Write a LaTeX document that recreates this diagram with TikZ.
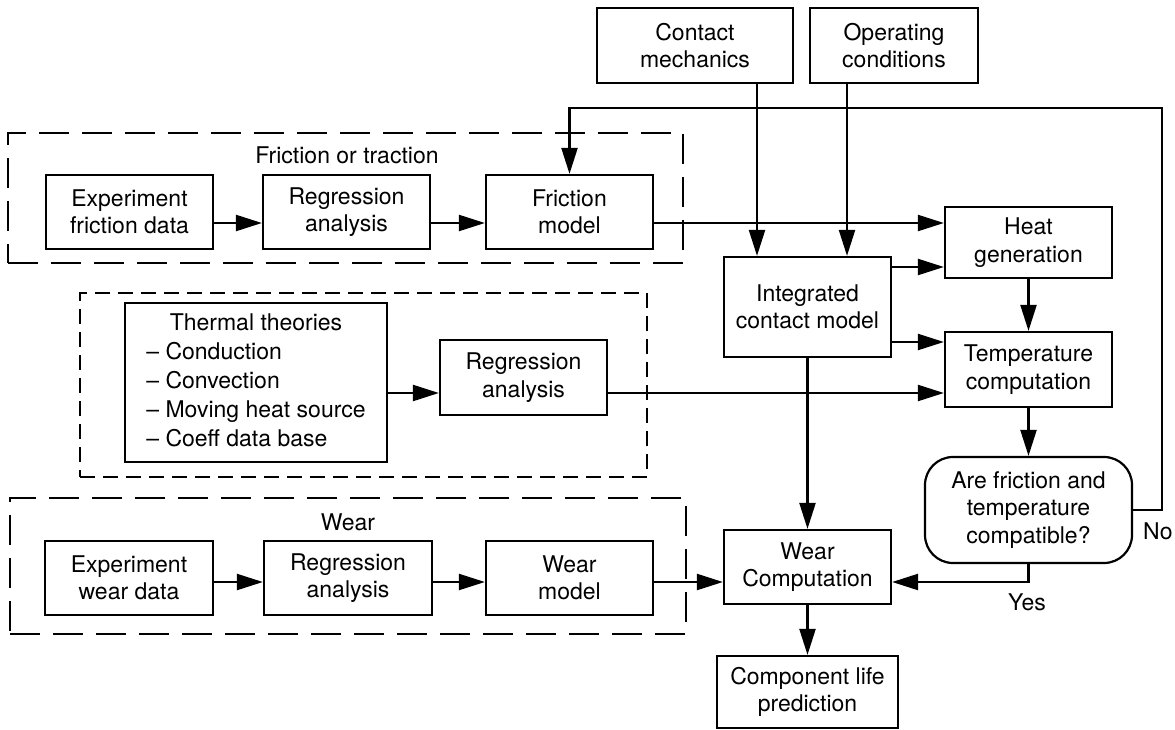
\documentclass[tikz,border=0pt]{standalone}
\usepackage{fontspec}
\setmainfont{TeX Gyre Heros}
\usetikzlibrary{arrows.meta}
\begin{document}
\begin{tikzpicture}[x=1pt,y=-1pt,
  every node/.style={font=\fontsize{23}{27.5}\selectfont},
  sz/.style 2 args={minimum width=#1pt, minimum height=#2pt},
  box/.style={draw, line width=2.2pt, align=center, inner sep=0pt},
  frame/.style={draw, line width=2.2pt, dash pattern=on 30pt off 13pt, inner sep=0pt},
  tframe/.style={draw, line width=2.2pt, dash pattern=on 15pt off 8pt, inner sep=0pt},
  arr/.style={line width=2.2pt, -{Triangle[length=26pt,width=16pt]}}]
\useasboundingbox (0,0) rectangle (1175,730);

% dashed groups
\node[frame, sz={675}{130}] (fF) at (345.5,198) {};
\node[tframe, sz={567}{184}] (fT) at (363.5,385) {};
\node[frame, sz={676}{136}] (fW) at (348,566) {};
\node (lF) at (347,155) {Friction or traction};
\node (lW) at (348,522) {Wear};

% inputs
\node[box, sz={196}{75}] (cm) at (695,45.5) {Contact\\mechanics};
\node[box, sz={168}{75}] (oc) at (894,45.5) {Operating\\conditions};

% friction row
\node[box, sz={167}{74}] (exf) at (129.5,212) {Experiment\\friction data};
\node[box, sz={167}{74}] (rg1) at (346.5,212) {Regression\\analysis};
\node[box, sz={167}{74}] (fm)  at (569.5,212) {Friction\\model};

% thermal group
\node[box, sz={262}{159}] (thm) at (256,382.5) {\renewcommand{\arraystretch}{1.05}\begin{tabular}{@{}l@{}}\multicolumn{1}{@{}c@{}}{Thermal theories}\\
  \textendash{} Conduction\\ \textendash{} Convection\\ \textendash{} Moving heat source\\ \textendash{} Coeff data base\end{tabular}};
\node[box, sz={167}{75}] (rg2) at (523.5,377.5) {Regression\\analysis};

% wear row
\node[box, sz={168}{74}] (exw) at (129,578) {Experiment\\wear data};
\node[box, sz={168}{74}] (rg3) at (348,578) {Regression\\analysis};
\node[box, sz={167}{74}] (wm)  at (569.5,578) {Wear\\model};

% central chain
\node[box, sz={167}{100}] (icm) at (807.5,307) {Integrated\\contact model};
\node[box, sz={167}{71}] (heat) at (1028.5,242.5) {Heat\\generation};
\node[box, sz={167}{75}] (temp) at (1028.5,369.5) {Temperature\\computation};
\node[box, sz={207}{106}, rounded corners=28pt] (dec) at (1028.5,510) {Are friction and\\temperature\\compatible?};
\node[box, sz={167}{74}] (wc) at (807.5,567) {Wear\\Computation};
\node[box, sz={181}{72}] (clp) at (807.5,692) {Component life\\prediction};

\node[anchor=west, inner sep=0pt] (no) at (1143,531) {No};
\node (yes) at (1027,602) {Yes};

% rails
\coordinate (yF) at (0,223);
\coordinate (yT) at (0,393);
\coordinate (yW) at (0,582);
\coordinate (yH) at (0,267);
\coordinate (yC) at (0,342);
\coordinate (xC) at (757,0);
\coordinate (xO) at (847,0);
\coordinate (fbR) at (1162,108);

% friction row
\draw[arr] (exf.east |- yF) -- (rg1.west |- yF);
\draw[arr] (rg1.east |- yF) -- (fm.west |- yF);
\draw[arr] (fm.east |- yF) -- (heat.west |- yF);

% thermal row
\draw[arr] (thm.east |- yT) -- (rg2.west |- yT);
\draw[arr] (rg2.east |- yT) -- (temp.west |- yT);

% wear row
\draw[arr] (exw.east |- yW) -- (rg3.west |- yW);
\draw[arr] (rg3.east |- yW) -- (wm.west |- yW);
\draw[arr] (wm.east |- yW) -- (wc.west |- yW);

% inputs to the contact model
\draw[arr] (cm.south -| xC) -- (icm.north -| xC);
\draw[arr] (oc.south -| xO) -- (icm.north -| xO);

% contact model outputs
\draw[arr] (icm.east |- yH) -- (heat.west |- yH);
\draw[arr] (icm.east |- yC) -- (temp.west |- yC);
\draw[arr] (icm.south) -- (wc.north);

% thermal chain
\draw[arr] (heat.south) -- (temp.north);
\draw[arr] (temp.south) -- (dec.north);
\draw[arr] (dec.south) |- (wc.east |- yW);
\draw[arr] (dec.east) -- (fbR |- dec.east) -- (fbR) -| (fm.north);
\draw[arr] (wc.south) -- (clp.north);
\end{tikzpicture}
\end{document}
